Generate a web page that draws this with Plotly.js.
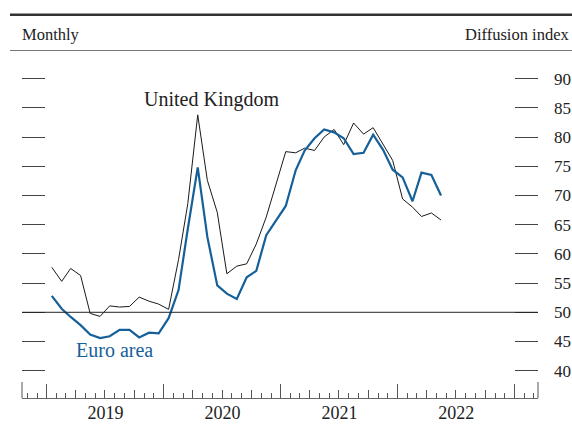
<!DOCTYPE html>
<html>
<head>
<meta charset="utf-8">
<script src="https://cdn.plot.ly/plotly-3.0.1.min.js"></script>
<style>html,body{margin:0;padding:0;background:#fff;}#chart{width:572px;height:424px;}</style>
</head>
<body>
<div id="chart"></div>
<script>
// Months (plotted at mid-month), Jan 2019 – May 2022
const months = [
  '2019-01','2019-02','2019-03','2019-04','2019-05','2019-06','2019-07','2019-08','2019-09','2019-10','2019-11','2019-12',
  '2020-01','2020-02','2020-03','2020-04','2020-05','2020-06','2020-07','2020-08','2020-09','2020-10','2020-11','2020-12',
  '2021-01','2021-02','2021-03','2021-04','2021-05','2021-06','2021-07','2021-08','2021-09','2021-10','2021-11','2021-12',
  '2022-01','2022-02','2022-03','2022-04','2022-05'
];
const ukValues = [
  57.7, 55.3, 57.5, 56.3, 49.8, 49.3, 51.1, 50.9, 51.0, 52.6, 51.9, 51.4,
  50.5, 59.0, 68.6, 83.8, 72.6, 67.1, 56.6, 57.9, 58.3, 61.7, 66.3, 72.0,
  77.5, 77.3, 78.1, 77.7, 80.0, 81.3, 78.7, 82.4, 80.5, 81.6, 78.8, 76.0,
  69.4, 68.0, 66.4, 67.0, 65.8
];
const euroValues = [
  52.8, 50.6, 49.2, 47.8, 46.2, 45.6, 45.9, 47.0, 47.0, 45.7, 46.5, 46.4,
  49.0, 53.8, 64.3, 74.8, 62.9, 54.6, 53.2, 52.3, 56.0, 57.1, 63.2, 65.7,
  68.2, 74.3, 77.7, 79.8, 81.3, 80.8, 79.8, 77.1, 77.3, 80.4, 77.8, 74.4,
  73.1, 69.0, 73.9, 73.5, 70.0
];
const yTicks = [40, 45, 50, 55, 60, 65, 70, 75, 80, 85, 90];
const seriesNames = ['United Kingdom', 'Euro area'];
const unitLabel = 'Diffusion index';
const freqLabel = 'Monthly';
const refLevel = 50;

const dates = months.map(m => m + '-16');

const W = 572, H = 424;
const M = {l: 22, r: 34, t: 64, b: 26};
const pw = W - M.l - M.r, ph = H - M.t - M.b;
const px = x => (x - M.l) / pw;
const py = y => (H - M.b - y) / ph;

const xRange = ['2018-10-15', '2023-03-15'];
const yRange = [35.33, 92.5];
const FONT = '"Liberation Serif", "Times New Roman", serif';
const BLUE = '#16609a';
const TICKC = '#444';

const traces = [
  {x: dates, y: ukValues, name: seriesNames[0], type: 'scatter', mode: 'lines',
   line: {color: '#1a1a1a', width: 1}, xaxis: 'x', yaxis: 'y', hoverinfo: 'skip'},
  {x: dates, y: euroValues, name: seriesNames[1], type: 'scatter', mode: 'lines',
   line: {color: BLUE, width: 2.2}, xaxis: 'x2', yaxis: 'y2', hoverinfo: 'skip'}
];

const layout = {
  width: W, height: H,
  margin: {l: M.l, r: M.r, t: M.t, b: M.b, autoexpand: false},
  paper_bgcolor: '#fff', plot_bgcolor: '#fff',
  showlegend: false,
  font: {family: FONT, color: '#222'},
  xaxis: {
    type: 'date', range: xRange, showgrid: false, zeroline: false,
    showline: true, linecolor: '#666', linewidth: 1,
    ticks: 'inside', ticklen: 14, tickwidth: 1, tickcolor: '#555',
    tick0: '2019-01-01', dtick: 'M12', tickformat: '%Y', ticklabelmode: 'period',
    tickfont: {size: 18, family: FONT, color: '#222'},
    ticklabelstandoff: -2,
    minor: {dtick: 'M1', tick0: '2019-01-01', ticks: 'inside', ticklen: 5, tickwidth: 1, tickcolor: '#555', showgrid: false}
  },
  xaxis2: {
    type: 'date', range: xRange, overlaying: 'x', anchor: 'y2', side: 'bottom',
    showgrid: false, zeroline: false, showline: false,
    ticks: 'inside', ticklen: 8, tickwidth: 1, tickcolor: '#555',
    tick0: '2019-01-01', dtick: 'M3', showticklabels: false
  },
  yaxis: {
    range: yRange, showgrid: false, zeroline: false, showline: false,
    tickvals: yTicks, ticks: 'inside', ticklen: 23, tickwidth: 1, tickcolor: TICKC,
    showticklabels: false, side: 'left'
  },
  yaxis2: {
    range: yRange, overlaying: 'y', anchor: 'x', side: 'right',
    showgrid: false, zeroline: false, showline: false,
    tickvals: yTicks, ticktext: yTicks.map(String),
    ticks: 'inside', ticklen: 23, tickwidth: 1, tickcolor: TICKC,
    tickfont: {size: 17, family: FONT, color: '#222'},
    ticklabelstandoff: 15
  },
  shapes: [
    {type: 'line', xref: 'paper', yref: 'y', x0: 0, x1: 1, y0: refLevel, y1: refLevel,
     line: {color: '#222', width: 1}},
    {type: 'line', xref: 'paper', yref: 'paper', x0: 0, x1: 0, y0: 0, y1: 16 / ph,
     line: {color: '#555', width: 1}},
    {type: 'line', xref: 'paper', yref: 'paper', x0: 1, x1: 1, y0: 0, y1: 16 / ph,
     line: {color: '#555', width: 1}},
    {type: 'line', xref: 'paper', yref: 'paper', x0: px(10), x1: px(572), y0: py(14.7), y1: py(14.7),
     line: {color: '#333', width: 2.6}},
    {type: 'line', xref: 'paper', yref: 'paper', x0: px(10), x1: px(572), y0: py(50.5), y1: py(50.5),
     line: {color: '#777', width: 1}}
  ],
  annotations: [
    {text: freqLabel, xref: 'paper', yref: 'paper', x: px(20), y: py(34.5),
     xanchor: 'left', yanchor: 'middle', showarrow: false,
     font: {size: 16.5, family: FONT, color: '#222'}},
    {text: unitLabel, xref: 'paper', yref: 'paper', x: px(571), y: py(34.5),
     xanchor: 'right', yanchor: 'middle', showarrow: false,
     font: {size: 16.5, family: FONT, color: '#222'}},
    {text: seriesNames[0], xref: 'paper', yref: 'paper', x: px(211), y: py(99),
     xanchor: 'center', yanchor: 'middle', showarrow: false,
     font: {size: 20, family: FONT, color: '#222'}},
    {text: seriesNames[1], xref: 'paper', yref: 'paper', x: px(114), y: py(350),
     xanchor: 'center', yanchor: 'middle', showarrow: false,
     font: {size: 20, family: FONT, color: BLUE}}
  ]
};

Plotly.newPlot('chart', traces, layout, {staticPlot: true, displayModeBar: false});
</script>
</body>
</html>
